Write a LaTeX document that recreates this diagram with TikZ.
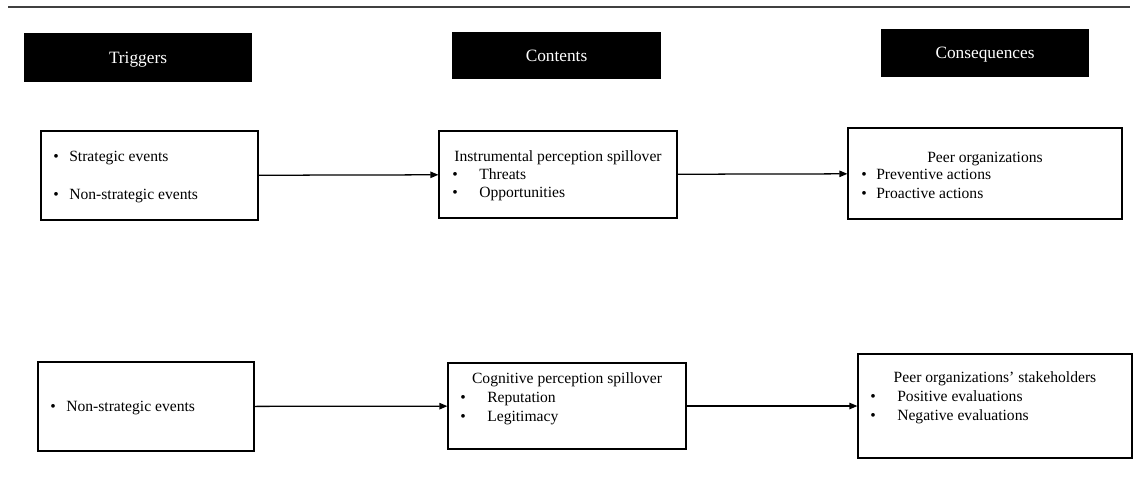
\documentclass[tikz,border=0pt]{standalone}
\usepackage{fontspec}
\setmainfont{Liberation Serif}
\usetikzlibrary{arrows.meta}
\newcommand{\bulletat}[1]{\makebox[#1][l]{\textbullet}}

\begin{document}
\begin{tikzpicture}[x=0.025cm,y=-0.025cm,
    header/.style={fill=black,text=white,inner sep=0pt,text depth=0pt,
                   font=\fontsize{12.3}{14}\selectfont},
    itembox/.style={draw,line width=0.8pt,inner sep=0pt},
    item/.style={anchor=base west,inner sep=0pt,
                 font=\fontsize{11.1}{13}\selectfont},
    title/.style={anchor=base,inner sep=0pt,
                  font=\fontsize{11.1}{13}\selectfont},
    link/.style={-{Triangle[length=2mm,width=1.6mm]},line width=0.9pt}]
  \useasboundingbox (0,0) rectangle (1135,476);
  % rule above the figure
  \draw[line width=1.2pt,black!75] (8,7) -- (1130,7);
  % column headings
  \node[header,minimum width=5.7cm,minimum height=1.225cm] (trighead) at (138,57.5) {Triggers};
  \node[header,minimum width=5.225cm,minimum height=1.175cm] (conthead) at (556.5,55.5) {Contents};
  \node[header,minimum width=5.2cm,minimum height=1.2cm] (conshead) at (985,53) {Consequences};
  % upper row boxes
  \node[itembox,minimum width=5.425cm,minimum height=2.225cm] (trigA) at (149.5,175.5) {};
  \node[itembox,minimum width=5.95cm,minimum height=2.175cm] (contA) at (558,174.5) {};
  \node[itembox,minimum width=6.85cm,minimum height=2.275cm] (consA) at (985,173.5) {};
  % lower row boxes
  \node[itembox,minimum width=5.4cm,minimum height=2.225cm] (trigB) at (146,406.5) {};
  \node[itembox,minimum width=5.95cm,minimum height=2.15cm] (contB) at (567,406) {};
  \node[itembox,minimum width=6.85cm,minimum height=2.6cm] (consB) at (995,406) {};
  % upper row texts
  \node[item] (trigA1) at (53,161) {\bulletat{0.4cm}Strategic events};
  \node[item] (trigA2) at (53,199) {\bulletat{0.4cm}Non-strategic events};
  \node[title] (contAt) at (558,161) {Instrumental perception spillover};
  \node[item] (contA1) at (452,179) {\bulletat{0.675cm}Threats};
  \node[item] (contA2) at (452,197) {\bulletat{0.675cm}Opportunities};
  \node[title] (consAt) at (985,162) {Peer organizations};
  \node[item] (consA1) at (861,179) {\bulletat{0.375cm}Preventive actions};
  \node[item] (consA2) at (861,198) {\bulletat{0.375cm}Proactive actions};
  % lower row texts
  \node[item] (trigB1) at (50,411) {\bulletat{0.4cm}Non-strategic events};
  \node[title] (contBt) at (567,383) {Cognitive perception spillover};
  \node[item] (contB1) at (460,402) {\bulletat{0.675cm}Reputation};
  \node[item] (contB2) at (460,421) {\bulletat{0.675cm}Legitimacy};
  \node[title] (consBt) at (995,382) {Peer organizations’ stakeholders};
  \node[item] (consB1) at (870,401) {\bulletat{0.675cm}Positive evaluations};
  \node[item] (consB2) at (870,420) {\bulletat{0.675cm}Negative evaluations};
  % arrows
  \draw[link] (trigA) -- (contA);
  \draw[link] (contA) -- (consA);
  \draw[link] (trigB) -- (contB);
  \draw[link] (contB) -- (consB);
\end{tikzpicture}
\end{document}
